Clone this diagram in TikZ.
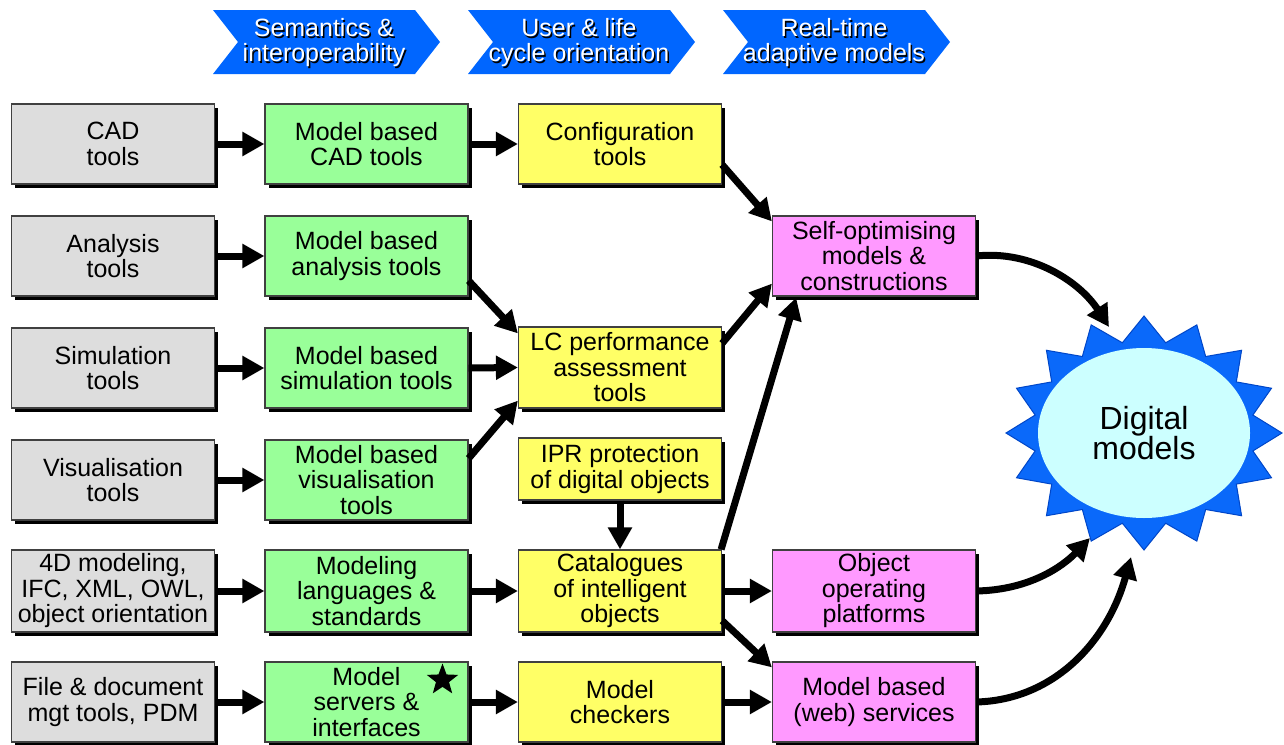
\documentclass[tikz,border=0pt]{standalone}
\usepackage{fontspec}
\setmainfont{Liberation Sans}
\usetikzlibrary{shadows,arrows.meta,shapes.geometric,calc}

\definecolor{boxgray}{HTML}{DDDDDD}
\definecolor{boxgreen}{HTML}{99FF99}
\definecolor{boxyellow}{HTML}{FFFF66}
\definecolor{boxpink}{HTML}{FF99FF}
\definecolor{hdrblue}{RGB}{0,102,255}
\definecolor{burstblue}{RGB}{10,105,250}
\definecolor{burstedge}{RGB}{0,70,200}
\definecolor{coreblue}{HTML}{CCFFFF}

\begin{document}
\begin{tikzpicture}[x=1pt,y=-1pt,
  box/.style={rectangle, draw=black!75, line width=1.2pt,
    minimum width=203pt, minimum height=80pt, inner sep=2pt,
    align=center, font=\fontsize{25}{25.5}\selectfont,
    drop shadow={shadow xshift=3.5pt, shadow yshift=-3.5pt, opacity=1, fill=black}},
  toolbox/.style={box, fill=boxgray},
  modelbox/.style={box, fill=boxgreen},
  lifebox/.style={box, fill=boxyellow},
  adaptbox/.style={box, fill=boxpink},
  link/.style={line width=7pt, -{Triangle[length=22pt,width=23pt]}},
  hdrtxt/.style={align=center, inner sep=0pt, font=\fontsize{25}{25}\selectfont},
]
\useasboundingbox (0,0) rectangle (1284,744);

% phase banners
\foreach \x/\n/\a/\b in {213/h1/Semantics \&/interoperability,
                          468/h2/User \& life/cycle orientation,
                          723/h3/Real-time/adaptive models}{
  \fill[hdrblue] (\x,10) -- ++(202,0) -- ++(25,32) -- ++(-25,32) -- ++(-202,0) -- ++(25,-32) -- cycle;
  \node[hdrtxt, text=black] at (\x+112.5,44.5) {\a\\\b};
  \node[hdrtxt, text=white] (\n) at (\x+111,43) {\a\\\b};
}

% column 1: conventional tools
\node[toolbox] (cad)   at (113,144) {CAD\\tools};
\node[toolbox] (ana)   at (113,256) {Analysis\\tools};
\node[toolbox] (sim)   at (113,368) {Simulation\\tools};
\node[toolbox] (vis)   at (113,480) {Visualisation\\tools};
\node[toolbox, minimum height=82pt] (fourd) at (113,591) {4D modeling,\\IFC, XML, OWL,\\object orientation};
\node[toolbox] (file)  at (113,702) {File \& document\\mgt tools, PDM};

% column 2: model based tools
\node[modelbox] (mbcad) at (366.5,144) {Model based\\CAD tools};
\node[modelbox] (mbana) at (366.5,256) {Model based\\analysis tools};
\node[modelbox] (mbsim) at (366.5,368) {Model based\\simulation tools};
\node[modelbox] (mbvis) at (366.5,480) {Model based\\visualisation\\tools};
\node[modelbox, minimum height=82pt] (mlang) at (366.5,591) {Modeling\\languages \&\\standards};
\node[modelbox] (msrv)  at (366.5,702) {Model\\servers \&\\interfaces};
\node[star, star points=5, star point ratio=2.4, fill=black, inner sep=0pt,
      minimum size=33pt] (mark) at (442.5,680) {};

% column 3: user and life cycle
\node[lifebox] (config) at (620,144) {Configuration\\tools};
\node[lifebox, minimum height=81pt] (lc) at (620,367.5) {LC performance\\assessment\\tools};
\node[lifebox, minimum height=62pt] (ipr) at (620,469) {IPR protection\\of digital objects};
\node[lifebox, minimum height=82pt] (cat) at (620,591) {Catalogues\\of intelligent\\objects};
\node[lifebox] (mchk) at (620,702) {Model\\checkers};

% column 4: adaptive models
\node[adaptbox] (selfopt) at (874,256) {Self-optimising\\models \&\\constructions};
\node[adaptbox, minimum height=82pt] (oop) at (874,591) {Object\\operating\\platforms};
\node[adaptbox] (mbweb) at (874,702) {Model based\\(web) services};

% digital models burst
\begin{scope}[shift={(1144,433)}]
  \filldraw[fill=burstblue, draw=burstedge, line width=1pt, line join=miter]
    (90:138 and 117)
    \foreach \k in {0,...,15}{
      -- ({101.25+22.5*\k}:111 and 92) -- ({112.5+22.5*\k}:138 and 117)
    } -- cycle;
\end{scope}
\node[ellipse, fill=coreblue, minimum width=212pt, minimum height=170pt,
      inner sep=0pt, align=center, font=\fontsize{32}{30}\selectfont] (dm) at (1144,433) {Digital\\models};
\coordinate (t1) at (1109,327);
\coordinate (t2) at (1090,538);
\coordinate (t3) at (1131,557);

% straight connectors
\draw[link] (cad.east) -- (mbcad.west);
\draw[link] (ana.east) -- (mbana.west);
\draw[link] (sim.east) -- (mbsim.west);
\draw[link] (vis.east) -- (mbvis.west);
\draw[link] (fourd.east) -- (mlang.west);
\draw[link] (file.east) -- (msrv.west);

\draw[link] (mbcad.east) -- (config.west);
\draw[link] ([yshift=16pt]mbana.south east) -- ([yshift=-7pt]lc.north west);
\draw[link] (mbsim.east) -- (lc.west);
\draw[link] ([yshift=-19pt]mbvis.north east) -- ([yshift=8pt]lc.south west);
\draw[link] (mlang.east) -- (cat.west);
\draw[link] (msrv.east) -- (mchk.west);

\draw[link] ([yshift=20pt]config.south east) -- ([yshift=-6pt]selfopt.north west);
\draw[link] ([yshift=-17pt]lc.north east) -- ([yshift=13pt]selfopt.south west);
\draw[link] ([xshift=-1pt]cat.north east) -- ([xshift=-180pt,yshift=-1pt]selfopt.south east);
\draw[link] (ipr.south) -- (cat.north);
\draw[link] (cat.east) -- (oop.west);
\draw[link] ([yshift=12pt]cat.south east) -- ([yshift=-6pt]mbweb.north west);
\draw[link] (mchk.east) -- (mbweb.west);

% curved connectors into the burst
\draw[link] (selfopt.east) .. controls (1032,250) and (1080,282) .. (t1);
\draw[link] (oop.east) .. controls (1030,590) and (1063,566) .. (t2);
\draw[link] (mbweb.east) .. controls (1055,700) and (1108,640) .. (t3);
\end{tikzpicture}
\end{document}
